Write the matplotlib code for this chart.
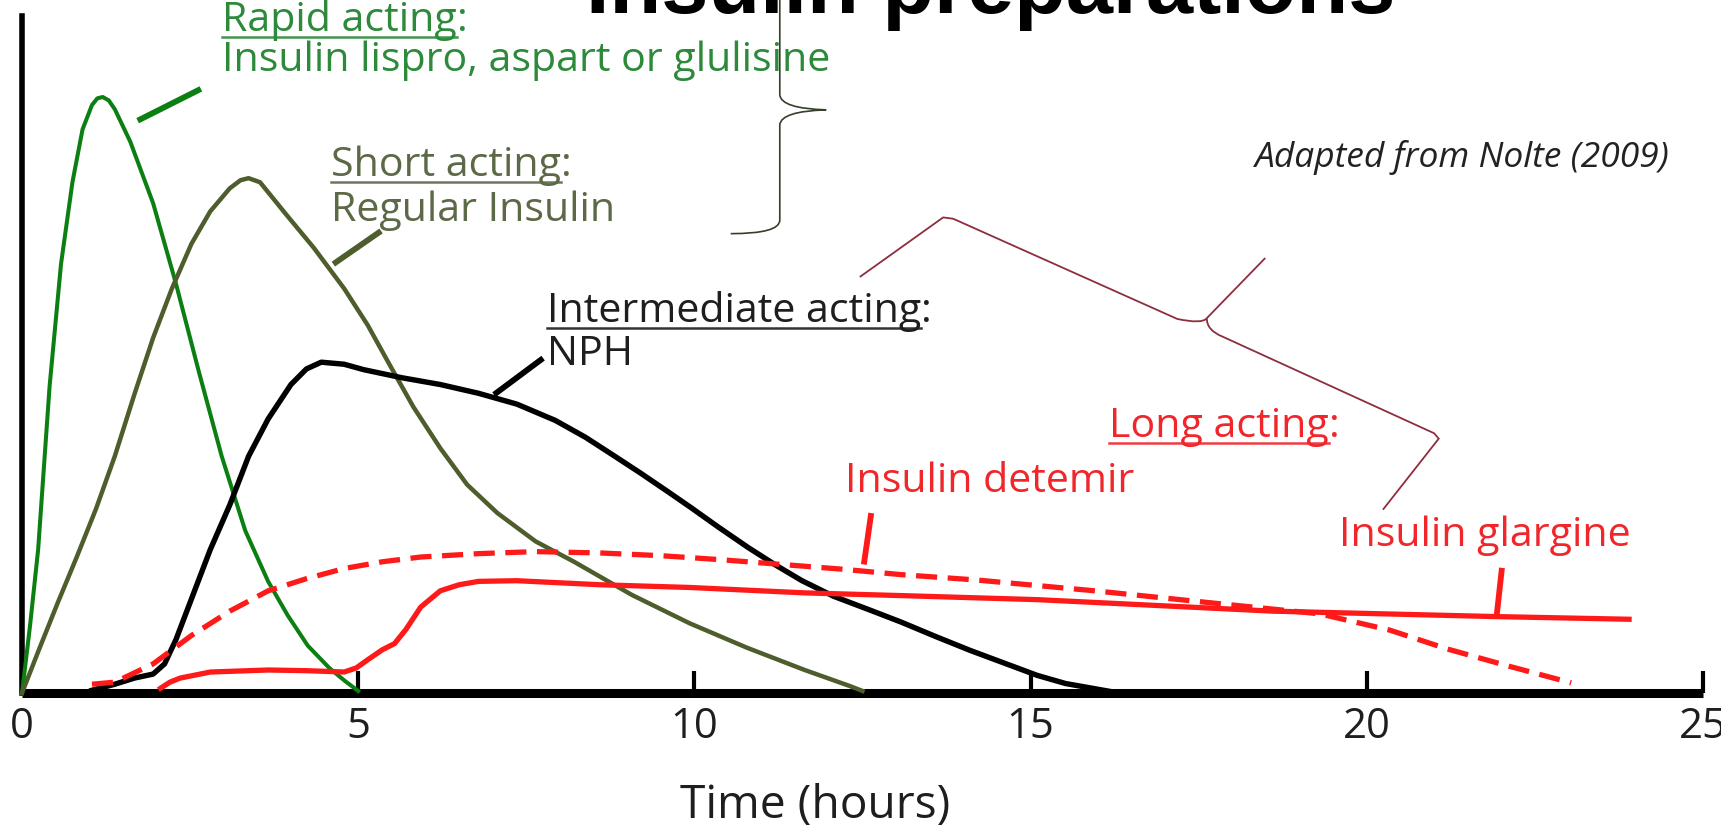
import matplotlib
matplotlib.use("Agg")
import matplotlib.pyplot as plt
from matplotlib.path import Path
from matplotlib.patches import PathPatch
from matplotlib.lines import Line2D

W, H, DPI = 1721, 826, 100

# ---------------- data (hours, relative activity 0-100) ----------------
x_ticks = [0, 5, 10, 15, 20, 25]
x_tick_labels = ["0", "5", "10", "15", "20", "25"]

rapid_h = [0, 0.12, 0.24, 0.41, 0.58, 0.75, 0.90, 1.04, 1.12, 1.20, 1.29, 1.38, 1.61, 1.95,
           2.29, 2.63, 2.97, 3.32, 3.66, 3.95, 4.25, 4.57, 4.8, 5.0]
rapid_v = [0, 10, 21.2, 45.3, 63.4, 75.5, 83.3, 86.9, 87.9, 88.1, 87.6, 86.3, 81.5, 72.4,
           60.5, 47.5, 35, 24, 16.5, 11.5, 7, 3.7, 1.8, 0.3]

short_h = [0, 0.24, 0.53, 0.81, 1.10, 1.38, 1.67, 1.95, 2.23, 2.52, 2.80, 3.09, 3.25, 3.37,
           3.54, 3.94, 4.34, 4.79, 5.14, 5.48, 5.82, 6.22, 6.62, 7.07, 7.64, 8.21, 9.07, 9.93,
           10.78, 11.64, 12.32, 12.5]
short_v = [0, 6.1, 13.3, 20.0, 27.2, 35.0, 44.1, 52.5, 59.8, 66.4, 71.2, 74.6, 75.8, 76.1,
           75.5, 70.6, 65.8, 59.8, 54.4, 48.3, 42.3, 36.2, 30.8, 26.6, 22.4, 19.4, 14.5, 10.3,
           6.7, 3.4, 1.0, 0.3]

nph_h = [1.04, 1.38, 1.67, 1.95, 2.12, 2.29, 2.52, 2.80, 3.09, 3.37, 3.66, 4.0, 4.23, 4.45,
         4.79, 5.08, 5.65, 6.22, 6.79, 7.36, 7.93, 8.38, 8.8, 9.2, 9.6, 9.95, 10.36, 10.8,
         11.21, 11.6, 12.07, 12.6, 13.07, 13.6, 14.1, 14.64, 15.1, 15.52, 16.2]
nph_v = [0.4, 1.3, 2.2, 2.8, 4.3, 7.9, 13.9, 21.2, 27.8, 35.0, 40.5, 45.6, 47.9, 48.9,
         48.6, 47.8, 46.6, 45.6, 44.3, 42.7, 40.3, 37.8, 35.1, 32.5, 29.8, 27.4, 24.5, 21.5,
         18.9, 16.6, 14.3, 12.3, 10.5, 8.3, 6.3, 4.3, 2.6, 1.4, 0.2]

detemir_h = [1.04, 1.38, 1.95, 2.52, 3.09, 3.66, 4.23, 4.79, 5.36, 5.93, 6.79, 7.64, 8.6,
             9.5, 10.4, 11.3, 12.2, 13.07, 14.2, 15.96, 17.71, 19.3, 20.34, 21.2, 22.1, 23.04]
detemir_v = [1.3, 1.6, 4.3, 8.5, 12.1, 15.1, 16.9, 18.4, 19.4, 20.1, 20.6, 20.9, 20.7,
             20.3, 19.7, 19.0, 18.3, 17.5, 16.7, 15.1, 13.3, 11.7, 9.3, 6.5, 4.0, 1.5]

glargine_h = [2.06, 2.2, 2.35, 2.8, 3.66, 4.23, 4.79, 4.97, 5.14, 5.36, 5.54, 5.71, 5.93,
              6.22, 6.50, 6.79, 7.36, 8.6, 9.93, 11.64, 13.07, 15.1, 18.6, 21.9, 23.9]
glargine_v = [0.7, 1.6, 2.2, 3.1, 3.4, 3.3, 3.1, 3.7, 4.9, 6.4, 7.3, 9.4, 12.7,
              15.1, 16.0, 16.5, 16.6, 16.0, 15.6, 14.8, 14.4, 13.8, 12.1, 11.3, 10.9]

title_text = "Insulin preparations"
xlabel_text = "Time (hours)"
source_text = "Adapted from Nolte (2009)"

# ---------------- styles ----------------
FONT = ["Open Sans", "DejaVu Sans"]
GREEN_LINE = "#0c7f12"
GREEN_TEXT = "#2c8a3a"
OLIVE_LINE = "#4e5d2c"
OLIVE_TEXT = "#5c6947"
RED_LINE = "#ff1a1a"
RED_TEXT = "#f0262b"
MAROON = "#8e2d3d"
BRACE_DARK = "#34402c"

fig = plt.figure(figsize=(W / DPI, H / DPI), dpi=DPI)
fig.patch.set_facecolor("white")
ax = fig.add_axes([22 / W, (H - 693) / H, 1681 / W, (693 - 16.5) / H])
ax.set_xlim(0, 25)
ax.set_ylim(0, 100)
ax.set_facecolor("none")

for s in ("top", "right"):
    ax.spines[s].set_visible(False)
ax.spines["left"].set_linewidth(4)
ax.spines["bottom"].set_linewidth(6.5)
ax.spines["bottom"].set_capstyle("butt")
ax.set_yticks([])

# curves
ax.plot(rapid_h, rapid_v, color=GREEN_LINE, lw=2.9, clip_on=False, zorder=3)
ax.plot(short_h, short_v, color=OLIVE_LINE, lw=3.2, clip_on=False, zorder=3)
ax.plot(nph_h, nph_v, color="black", lw=3.9, clip_on=False, zorder=3)
ax.plot(detemir_h, detemir_v, color=RED_LINE, lw=3.8, dashes=(4, 2), clip_on=False, zorder=4)
ax.plot(glargine_h, glargine_v, color=RED_LINE, lw=3.8, clip_on=False, zorder=4)

# leader lines to labels (annotation)
leaders = [
    ([1.72, 2.66], [84.6, 89.3], GREEN_LINE),
    ([4.63, 5.34], [63.4, 68.3], OLIVE_LINE),
    ([7.02, 7.75], [44.1, 49.5], "black"),
    ([12.52, 12.63], [19.0, 26.6], RED_LINE),
    ([21.93, 22.01], [11.3, 18.5], RED_LINE),
]
for lx, ly, c in leaders:
    ax.plot(lx, ly, color=c, lw=4.2, solid_capstyle="butt", clip_on=False, zorder=5)

# green brace (annotation)
gb = Path([(11.27, 103.0), (11.27, 88.4), (11.29, 86.4), (11.96, 86.2),
           (11.29, 86.0), (11.27, 84.0), (11.27, 69.9), (11.27, 67.9), (10.54, 67.9)],
          [Path.MOVETO, Path.LINETO, Path.CURVE3, Path.CURVE3,
           Path.CURVE3, Path.CURVE3, Path.LINETO, Path.CURVE3, Path.CURVE3])
ax.add_patch(PathPatch(gb, fill=False, edgecolor=BRACE_DARK, lw=1.2, clip_on=False, zorder=6))

# maroon brace (annotation)
mb1 = Path([(12.46, 61.5), (13.70, 70.3), (13.85, 70.1), (17.18, 55.3),
            (17.55, 54.5), (17.62, 55.4), (18.49, 64.3)],
           [Path.MOVETO, Path.LINETO, Path.LINETO, Path.LINETO,
            Path.CURVE3, Path.CURVE3, Path.LINETO])
mb2 = Path([(17.62, 55.4), (17.62, 53.6), (17.85, 52.7), (21.0, 38.4),
            (21.07, 37.6), (20.24, 27.1)],
           [Path.MOVETO, Path.CURVE3, Path.CURVE3, Path.LINETO, Path.LINETO, Path.LINETO])
for p in (mb1, mb2):
    ax.add_patch(PathPatch(p, fill=False, edgecolor=MAROON, lw=1.3, clip_on=False, zorder=6))

# ticks
ax.set_xticks(x_ticks)
ax.set_xticklabels(x_tick_labels, family=FONT, color="#1e1e1e")
ax.tick_params(axis="x", direction="in", length=16, width=3, color="black", pad=9)

fig.canvas.draw()
r = fig.canvas.get_renderer()


def ftext(x, y, s, size, color, family=FONT, **kw):
    return fig.text(x / W, 1 - y / H, s, fontsize=size, color=color, family=family,
                    ha="left", va="baseline", **kw)


def fit(t, width):
    bb = t.get_window_extent(r)
    t.set_fontsize(t.get_fontsize() * width / bb.width)
    return t.get_fontsize()


def underlined(x, y, head, tail, size, color):
    t1 = ftext(x, y, head, size, color)
    bb = t1.get_window_extent(r)
    ftext(bb.x1 * W / fig.bbox.width, y, tail, size, color)
    uy = 1 - (y + 0.15 * size * DPI / 72) / H
    fig.add_artist(Line2D([bb.x0 / fig.bbox.width, bb.x1 / fig.bbox.width], [uy, uy],
                          transform=fig.transFigure, color=color, lw=1.8, alpha=0.9))


# base size from longest label
probe = ftext(222, 71, "Insulin lispro, aspart or glulisine", 30, GREEN_TEXT)
BASE = fit(probe, 608)

underlined(222, 31, "Rapid acting", ":", BASE, GREEN_TEXT)
underlined(331, 176, "Short acting", ":", BASE, OLIVE_TEXT)
ftext(331, 221, "Regular Insulin", BASE, OLIVE_TEXT)
underlined(547, 322, "Intermediate acting", ":", BASE, "#1e1e1e")
ftext(547, 365, "NPH", BASE, "#1e1e1e")
underlined(1109, 437, "Long acting", ":", BASE, RED_TEXT)
ftext(845, 492, "Insulin detemir", BASE, RED_TEXT)
ftext(1339, 546, "Insulin glargine", BASE, RED_TEXT)

src = ftext(1255, 167, source_text, 20, "#222222", style="italic")
fit(src, 414)

xl = ftext(680, 818, xlabel_text, BASE, "#1e1e1e")
fit(xl, 270)

for lab in ax.get_xticklabels():
    lab.set_fontsize(BASE * 1.02)

tt = ftext(586, 13, title_text, 60, "black", family=["Liberation Sans", "DejaVu Sans"],
           weight="bold")
fit(tt, 810)

fig.savefig("out.png", dpi=DPI, facecolor="white")
